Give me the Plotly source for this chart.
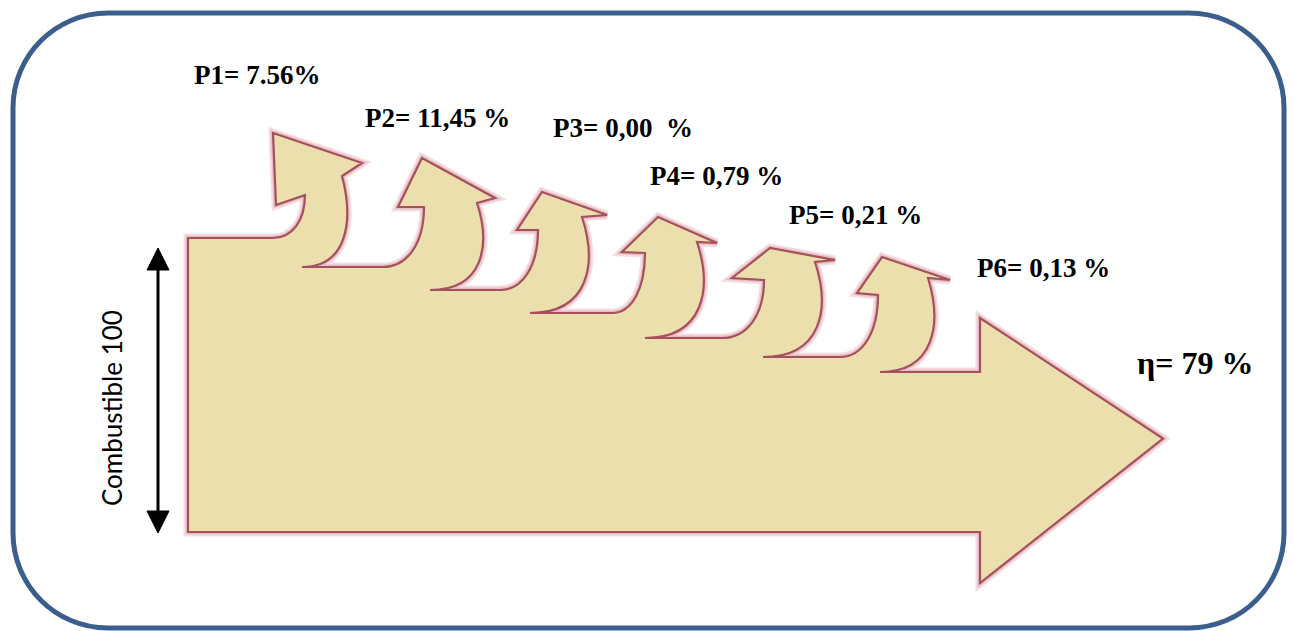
import plotly.graph_objects as go

# ---------------- data ----------------
fuel_input = 100
efficiency = 79
loss_names = ["P1", "P2", "P3", "P4", "P5", "P6"]
loss_values = [7.56, 11.45, 0.00, 0.79, 0.21, 0.13]
loss_texts = ["P1= 7.56%", "P2= 11,45 %", "P3= 0,00 \u00a0%", "P4= 0,79 %", "P5= 0,21 %", "P6= 0,13 %"]
efficiency_text = "\u03b7= 79 %"
fuel_text = "Combustible 100"

# ---------------- layout geometry (pixels) ----------------
W, H = 1293, 631
levels = [238, 267, 290, 313, 338, 357, 372]     # top edge of main flow after each branch
start_x = [273, 383, 500, 612, 722, 840]         # where each branch leaves the flow
notch_x = [305, 424, 538, 645, 764, 878]
notch_y = [195, 207, 230, 253, 280, 295]
lv_x = [276, 398, 517, 622, 732, 857]
lv_y = [205, 207, 230, 252, 278, 293]
tip_x = [273, 422, 542, 658, 770, 882]
tip_y = [133, 158, 192, 217, 248, 257]
rv_x = [362, 495, 607, 717, 835, 950]
rv_y = [163, 198, 215, 243, 260, 280]
on_x = [342, 477, 582, 697, 815, 928]
on_y = [176, 203, 217, 242, 262, 278]
end_x = [302, 430, 530, 645, 763, 880]
main_left, main_bottom = 188, 532
head_x, head_top, head_bottom, tip_main_x = 980, 318, 583, 1163

label_x = [192, 363, 551, 648, 787, 975]
label_y = [75, 118, 128, 176, 215, 268]
eta_x, eta_y = 1135, 363


def p(x, y):
    return f"{x:.1f},{y:.1f}"


segs = [f"M{p(main_left, main_bottom)}", f"L{p(main_left, levels[0])}"]
for i in range(len(loss_values)):
    xs, ys = start_x[i], levels[i]
    xn, yn = notch_x[i], notch_y[i]
    segs.append(f"L{p(xs, ys)}")
    segs.append(f"C{p(xs + 0.6 * (xn - xs), ys)} {p(xn, ys - 0.4 * (ys - yn))} {p(xn, yn)}")
    segs.append(f"L{p(lv_x[i], lv_y[i])}")
    segs.append(f"L{p(tip_x[i], tip_y[i])}")
    segs.append(f"L{p(rv_x[i], rv_y[i])}")
    xo, yo = on_x[i], on_y[i]
    xe, ye = end_x[i], levels[i + 1]
    w, h = xo - xe, ye - yo
    segs.append(f"L{p(xo, yo)}")
    segs.append(f"C{p(xo + 0.3 * w, yo + 0.5 * h)} {p(xo + 0.12 * w, ye)} {p(xe, ye)}")
segs.append(f"L{p(head_x, levels[-1])}")
segs.append(f"L{p(head_x, head_top)}")
segs.append(f"L{p(tip_main_x, (head_top + head_bottom) / 2 - 12)}")
segs.append(f"L{p(head_x, head_bottom)}")
segs.append(f"L{p(head_x, main_bottom)}")
segs.append("Z")
flow_path = " ".join(segs)

fig = go.Figure()
fig.add_trace(go.Scatter(x=[0, W], y=[0, H], mode="markers", marker=dict(opacity=0), hoverinfo="skip",
                         showlegend=False))

# glow
fig.add_shape(type="path", path=flow_path, xref="x", yref="y",
              line=dict(color="rgba(215,150,160,0.30)", width=9), fillcolor="rgba(0,0,0,0)", layer="below")
fig.add_shape(type="path", path=flow_path, xref="x", yref="y",
              line=dict(color="rgba(215,150,160,0.45)", width=5), fillcolor="rgba(0,0,0,0)", layer="below")
# flow
fig.add_shape(type="path", path=flow_path, xref="x", yref="y",
              line=dict(color="#A5505C", width=2.2), fillcolor="#ECDFAE", layer="above")

# rounded frame
bx0, by0, bx1, by1, r = 13, 13, 1284, 628, 95
k = 0.5523 * r
frame = (f"M{p(bx0 + r, by0)} L{p(bx1 - r, by0)} C{p(bx1 - r + k, by0)} {p(bx1, by0 + r - k)} {p(bx1, by0 + r)} "
         f"L{p(bx1, by1 - r)} C{p(bx1, by1 - r + k)} {p(bx1 - r + k, by1)} {p(bx1 - r, by1)} "
         f"L{p(bx0 + r, by1)} C{p(bx0 + r - k, by1)} {p(bx0, by1 - r + k)} {p(bx0, by1 - r)} "
         f"L{p(bx0, by0 + r)} C{p(bx0, by0 + r - k)} {p(bx0 + r - k, by0)} {p(bx0 + r, by0)} Z")
fig.add_shape(type="path", path=frame, xref="x", yref="y",
              line=dict(color="#3B5E8C", width=5), fillcolor="rgba(0,0,0,0)")

# double-headed arrow for the input
ax, at, ab = 158, 248, 533
fig.add_shape(type="line", x0=ax, x1=ax, y0=at + 18, y1=ab - 18, xref="x", yref="y",
              line=dict(color="black", width=3))
fig.add_shape(type="path", path=f"M{p(ax, at)} L{p(ax - 11, at + 22)} L{p(ax + 11, at + 22)} Z",
              xref="x", yref="y", fillcolor="black", line=dict(color="black", width=1))
fig.add_shape(type="path", path=f"M{p(ax, ab)} L{p(ax - 11, ab - 22)} L{p(ax + 11, ab - 22)} Z",
              xref="x", yref="y", fillcolor="black", line=dict(color="black", width=1))

serif = "Liberation Serif"
for i, txt in enumerate(loss_texts):
    fig.add_annotation(x=label_x[i], y=label_y[i], xref="x", yref="y", text=f"<b>{txt}</b>",
                       showarrow=False, xanchor="left", yanchor="middle",
                       font=dict(family=serif, size=27, color="black"))
fig.add_annotation(x=eta_x, y=eta_y, xref="x", yref="y", text=f"<b>{efficiency_text}</b>",
                   showarrow=False, xanchor="left", yanchor="middle",
                   font=dict(family=serif, size=32, color="black"))
fig.add_annotation(x=112, y=408, xref="x", yref="y", text=fuel_text, textangle=-90,
                   showarrow=False, xanchor="center", yanchor="middle",
                   font=dict(family="Lato", size=26, color="black"))

fig.update_layout(width=W, height=H, margin=dict(l=0, r=0, t=0, b=0),
                  paper_bgcolor="white", plot_bgcolor="white", showlegend=False,
                  xaxis=dict(range=[0, W], visible=False, fixedrange=True),
                  yaxis=dict(range=[H, 0], visible=False, fixedrange=True))
fig.write_html("out.html", config={"displayModeBar": False},
               post_script="document.body.style.margin='0';document.body.style.overflow='hidden';")
